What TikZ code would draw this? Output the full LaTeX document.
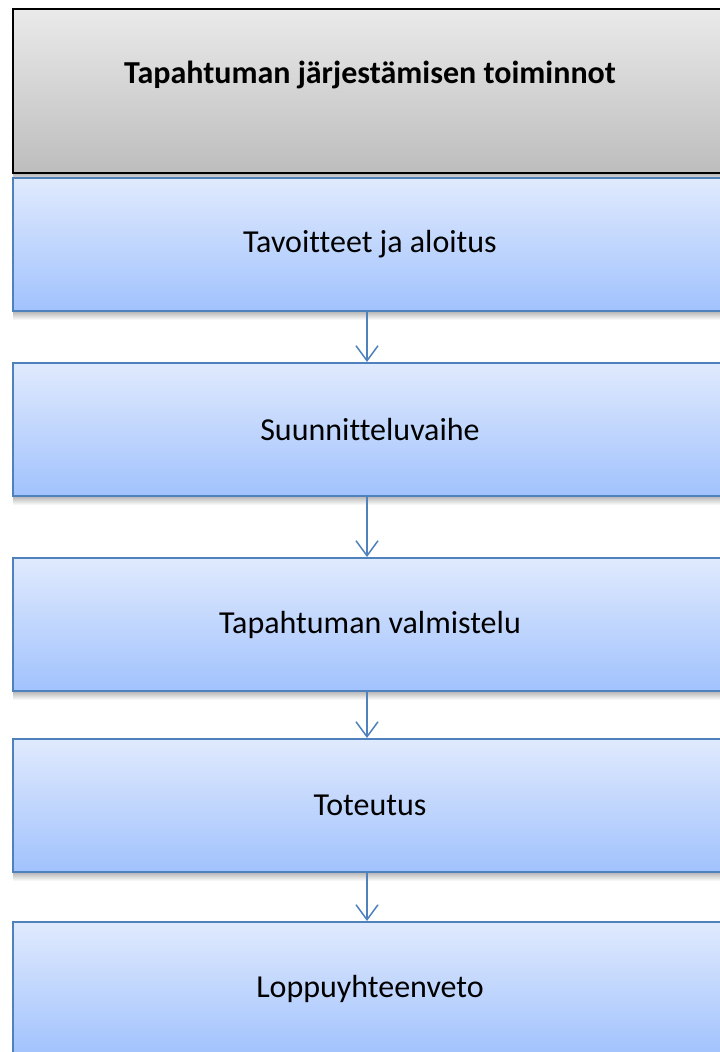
\documentclass[tikz,border=0pt]{standalone}
\usepackage{fontspec}
\setmainfont{Carlito}[Ligatures=NoCommon]
\usetikzlibrary{arrows.meta}
\definecolor{hdrtop}{RGB}{234,234,234}
\definecolor{hdrbot}{RGB}{189,189,189}
\definecolor{bluetop}{RGB}{224,234,253}
\definecolor{bluebot}{RGB}{161,194,253}
\definecolor{officeblue}{RGB}{79,129,189}
\begin{document}
\begin{tikzpicture}[x=1pt,y=-1pt,
  hdr/.style={draw=black, line width=2pt, top color=hdrtop, bottom color=hdrbot,
    minimum width=714pt, minimum height=164pt, inner sep=0pt},
  hdrtext/.style={font=\bfseries\fontsize{32}{38}\selectfont, inner sep=0pt},
  stage/.style={draw=officeblue, line width=2pt, top color=bluetop, bottom color=bluebot,
    minimum width=714pt, minimum height=133pt, inner sep=0pt,
    font=\fontsize{32}{38}\selectfont},
  flow/.style={draw=officeblue, line width=1.5pt,
    -{Straight Barb[length=15pt,width=22pt,line width=1.5pt]}},
  shadowstrip/.style={top color=black!30, bottom color=white, draw=none}]
\useasboundingbox (0,0) rectangle (720,1052);
\clip (0,0) rectangle (720,1052);
\fill[white] (0,0) rectangle (720,1052);
% soft shadows below the boxes
\shade[shadowstrip] (13,173) rectangle (727,182);
\shade[shadowstrip] (13,311) rectangle (727,320);
\shade[shadowstrip] (13,496) rectangle (727,505);
\shade[shadowstrip] (13,691) rectangle (727,700);
\shade[shadowstrip] (13,872) rectangle (727,881);
% header
\node[hdr] (hdr) at (370,91) {};
\node[hdrtext] (title) at (370,75) {Tapahtuman järjestämisen toiminnot};
% stages
\node[stage] (s1) at (370,244.5) {Tavoitteet ja aloitus};
\node[stage] (s2) at (370,429.5) {Suunnitteluvaihe};
\node[stage] (s3) at (370,624.5) {Tapahtuman valmistelu};
\node[stage] (s4) at (370,805.5) {Toteutus};
\node[stage] (s5) at (370,988.5) {Loppuyhteenveto};
% connectors
\draw[flow] ([xshift=-3pt]s1.south) -- ([xshift=-3pt]s2.north);
\draw[flow] ([xshift=-3pt]s2.south) -- ([xshift=-3pt]s3.north);
\draw[flow] ([xshift=-3pt]s3.south) -- ([xshift=-3pt]s4.north);
\draw[flow] ([xshift=-3pt]s4.south) -- ([xshift=-3pt]s5.north);
\end{tikzpicture}
\end{document}
